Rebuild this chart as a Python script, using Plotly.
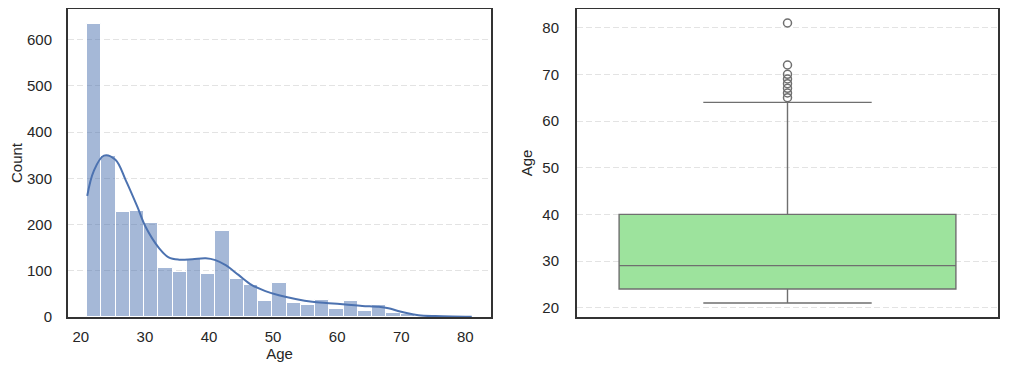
import numpy as np
import plotly.graph_objects as go

# ---------------- data ----------------
age_min, age_max, n_bins = 21, 81, 27
hist_counts = [634, 349, 228, 230, 204, 107, 98, 125, 93, 185, 83, 69, 35, 74,
               31, 26, 37, 17, 35, 14, 25, 9, 6, 0, 0, 0, 1]

kde_age = [21.0, 22.0, 23.6, 25.4, 27.0, 28.8, 30.1, 32.2, 33.7, 35.3, 37.4, 39.5,
           41.0, 42.6, 44.6, 46.7, 48.8, 50.9, 53.5, 56.1, 58.7, 61.3, 63.9, 66.5,
           68.0, 69.5, 71.0, 72.7, 75.3, 78.0, 81.0]
kde_count = [262, 315, 349, 340, 296, 239, 195, 149, 129, 124, 125, 127,
             123, 112, 91, 69, 56, 47, 39, 33, 30, 27, 24, 22,
             19, 13, 8, 4, 2, 1, 0.5]

box_q1, box_median, box_q3 = 24, 29, 40
box_low, box_high = 21, 64
outliers = [65, 66, 67, 68, 69, 70, 72, 81]

hist_xticks = [20, 30, 40, 50, 60, 70, 80]
hist_yticks = [0, 100, 200, 300, 400, 500, 600]
box_yticks = [20, 30, 40, 50, 60, 70, 80]

# ---------------- figure ----------------
edges = np.linspace(age_min, age_max, n_bins + 1)
centers = (edges[:-1] + edges[1:]) / 2
bw = edges[1] - edges[0]

FONT = "Liberation Sans, Arial, sans-serif"
TXT = "#262626"
SPINE = "#333333"
GRID = "#e3e3e3"
FS = 15

fig = go.Figure()
fig.add_trace(go.Bar(
    x=centers, y=hist_counts, width=bw,
    marker=dict(color="rgba(76,114,176,0.5)", line=dict(color="white", width=1)),
    xaxis="x", yaxis="y", showlegend=False, hoverinfo="skip"))
fig.add_trace(go.Scatter(
    x=kde_age, y=kde_count, mode="lines", line=dict(color="#4C72B0", width=2, shape="spline"),
    xaxis="x", yaxis="y", showlegend=False))

fig.add_trace(go.Box(
    x=[0], q1=[box_q1], median=[box_median], q3=[box_q3],
    lowerfence=[box_low], upperfence=[box_high],
    width=0.8, whiskerwidth=0.5, boxpoints=False,
    fillcolor="#9de39d", line=dict(color="#6f6f6f", width=1.4),
    xaxis="x2", yaxis="y2", showlegend=False))
fig.add_trace(go.Scatter(
    x=[0] * len(outliers), y=outliers, mode="markers",
    marker=dict(symbol="circle-open", size=8, color="#6f6f6f", line=dict(width=1.5)),
    xaxis="x2", yaxis="y2", showlegend=False))

# page body has an 8px margin -> compensate so plot areas land where the reference has them
OFF = 8
W, H = 1009 - OFF, 375 - OFF
ml, mr, mt, mb = 68 - OFF, 11, 9 - OFF, 58
pw = W - ml - mr
d1 = [0, (491 - 68) / pw]
d2 = [(577 - 68) / pw, 1]

axis_common = dict(showline=True, linecolor=SPINE, linewidth=2, mirror=True,
                   ticks="", zeroline=False,
                   tickfont=dict(family=FONT, size=FS, color=TXT))
ygrid = dict(showgrid=True, gridcolor=GRID, gridwidth=1, griddash="6px,3px")
tfont = dict(family=FONT, size=FS, color=TXT)

fig.update_layout(
    width=W, height=H,
    margin=dict(l=ml, r=mr, t=mt, b=mb, autoexpand=False),
    plot_bgcolor="white", paper_bgcolor="white",
    font=dict(family=FONT, size=FS, color=TXT),
    bargap=0,
    xaxis=dict(domain=d1, range=[18, 84], tickvals=hist_xticks, showgrid=False,
               ticklabelstandoff=5, automargin=False,
               title=dict(text="Age", standoff=4, font=tfont),
               **axis_common),
    yaxis=dict(domain=[0, 1], range=[0, 666], tickvals=hist_yticks, ticklabelstandoff=11,
               automargin=False,
               title=dict(text="Count", standoff=6, font=tfont),
               **ygrid, **axis_common),
    xaxis2=dict(domain=d2, range=[-0.5, 0.5], showticklabels=False, showgrid=False,
                anchor="y2", automargin=False, **axis_common),
    yaxis2=dict(domain=[0, 1], range=[18, 84], tickvals=box_yticks, anchor="x2",
                ticklabelstandoff=13, automargin=False,
                title=dict(text="Age", standoff=6, font=tfont),
                **ygrid, **axis_common),
)

fig.write_html("out.html")
